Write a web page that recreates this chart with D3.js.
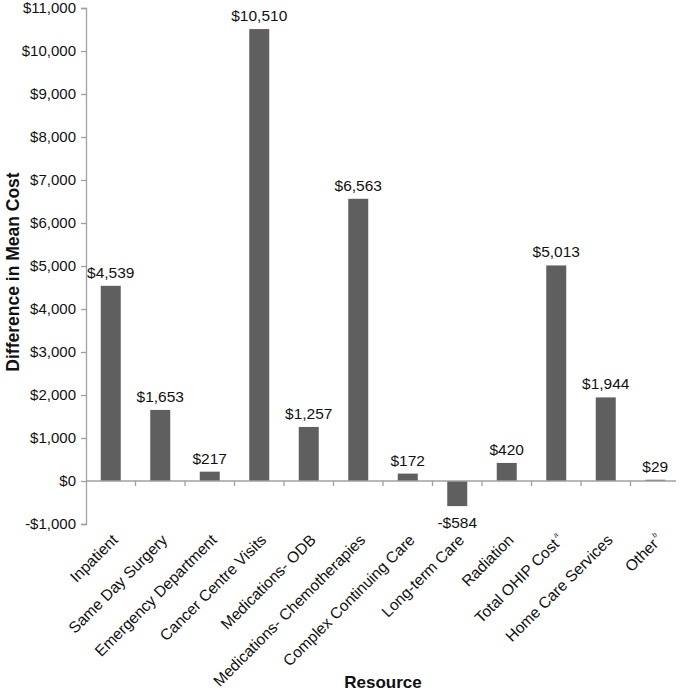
<!DOCTYPE html>
<html><head><meta charset="utf-8">
<script src="https://cdn.jsdelivr.net/npm/d3@7"></script>
<style>body{margin:0;background:#fff}svg{display:block}text{font-family:"Liberation Sans",Arial,sans-serif}</style>
</head><body>
<svg id="c" width="680" height="691"></svg>
<script>
const categories = ["Inpatient","Same Day Surgery","Emergency Department","Cancer Centre Visits","Medications- ODB","Medications- Chemotherapies","Complex Continuing Care","Long-term Care","Radiation","Total OHIP Cost","Home Care Services","Other"];
const superscripts = ["","","","","","","","","","a","","b"];
const values = [4539,1653,217,10510,1257,6563,172,-584,420,5013,1944,29];
const yTicks = [-1000,0,1000,2000,3000,4000,5000,6000,7000,8000,9000,10000,11000];

const svg = d3.select("#c");
const left = 86, right = 680;
const x = d3.scaleBand().domain(categories).range([left, right]).paddingInner(0.6).paddingOuter(0.3);
const y = d3.scaleLinear().domain([-1000,11000]).range([524, 8]);
const fmt = v => (v<0?"-$":"$") + d3.format(",")(Math.abs(v));
const axisColor = "#a0a0a0";
const txt = "#111";

// y axis
const ya = svg.append("g").attr("transform",`translate(${left},0)`)
  .call(d3.axisLeft(y).tickValues(yTicks).tickSize(5).tickPadding(5).tickFormat(fmt));
ya.select(".domain").attr("stroke",axisColor).attr("stroke-width",1.3);
ya.selectAll(".tick line").attr("stroke",axisColor).attr("stroke-width",1.3);
ya.selectAll(".tick text").attr("font-size",15).attr("fill",txt).style("font-family","'Liberation Sans',Arial,sans-serif");

// bars
svg.append("g").selectAll("rect").data(values).join("rect")
  .attr("x",(d,i)=>x(categories[i]) + x.bandwidth()/2 - 10)
  .attr("width",20)
  .attr("y",d=>y(Math.max(0,d)))
  .attr("height",d=>Math.abs(y(d)-y(0)))
  .attr("fill","#5f5f5f");

// x axis line at 0 with ticks at band boundaries
svg.append("line").attr("x1",left).attr("x2",676).attr("y1",y(0)).attr("y2",y(0)).attr("stroke",axisColor).attr("stroke-width",1.3);
const bounds = categories.slice(1).map(c => x(c) - x.step()*x.paddingInner()/2);
svg.append("g").selectAll("line").data(bounds).join("line")
  .attr("x1",d=>d).attr("x2",d=>d).attr("y1",y(0)).attr("y2",y(0)+5)
  .attr("stroke",axisColor).attr("stroke-width",1.3);

// value labels
svg.append("g").selectAll("text").data(values).join("text")
  .attr("x",(d,i)=>x(categories[i]) + x.bandwidth()/2)
  .attr("y",d=> d>=0 ? y(d)-8 : y(d)+22)
  .attr("text-anchor","middle").attr("font-size",15.5).attr("fill",txt)
  .text(d=>fmt(d));

// category labels
const cl = svg.append("g").selectAll("text").data(categories).join("text")
  .attr("transform",(d,i)=>`translate(${x(d)+x.bandwidth()/2+8},${541}) rotate(-45)`)
  .attr("text-anchor","end").attr("font-size",15.6).attr("fill",txt);
cl.append("tspan").text(d=>d);
cl.append("tspan").attr("font-size",7).attr("font-style","italic").attr("dx",2).attr("dy",-8)
  .text((d,i)=>superscripts[i]);

// axis titles
svg.append("text").attr("x",383).attr("y",688).attr("text-anchor","middle")
  .attr("font-size",17).attr("font-weight","bold").attr("fill",txt).text("Resource");
svg.append("text").attr("transform",`translate(19,${272}) rotate(-90)`).attr("text-anchor","middle")
  .attr("font-size",17.5).attr("font-weight","bold").attr("fill",txt).text("Difference in Mean Cost");
</script>
</body></html>
